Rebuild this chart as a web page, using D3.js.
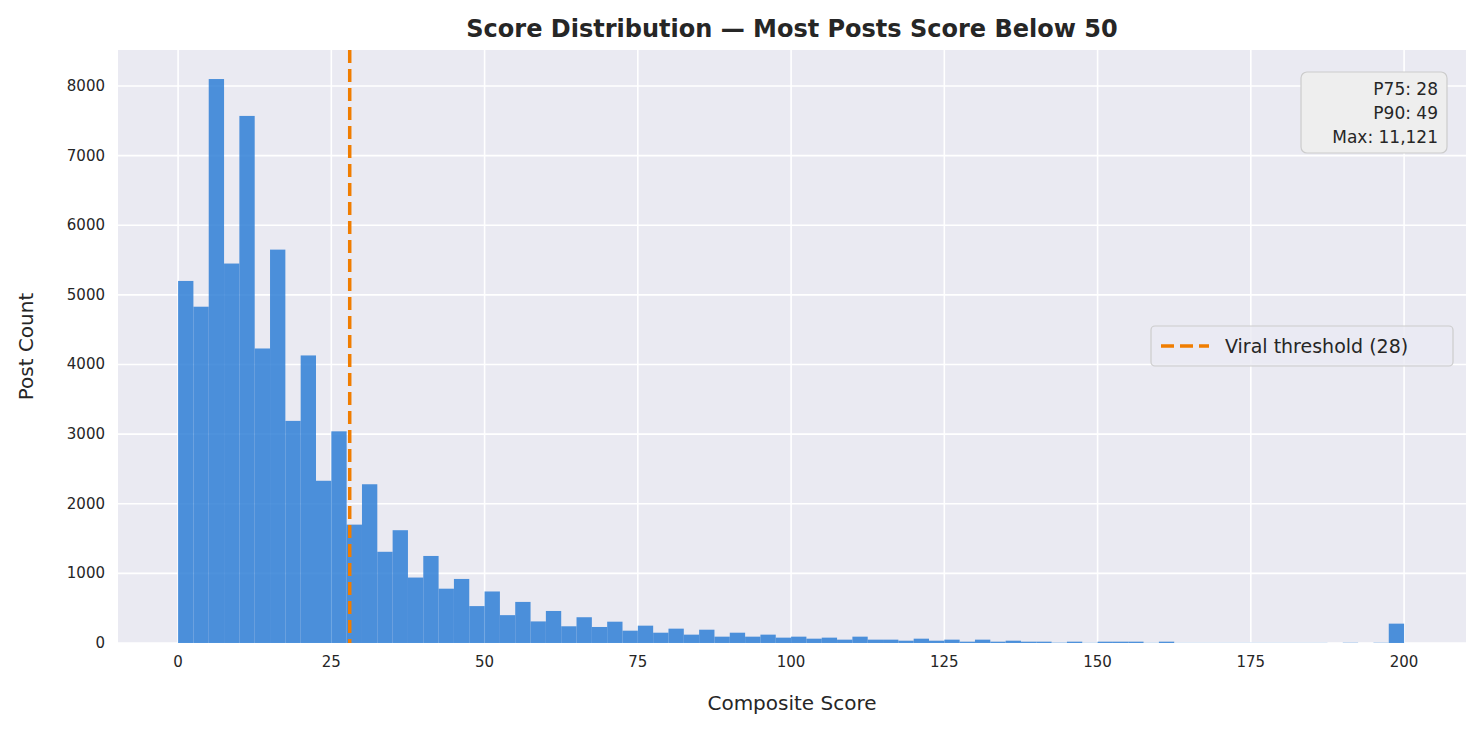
<!DOCTYPE html>
<html>
<head>
<meta charset="utf-8">
<script src="https://cdn.jsdelivr.net/npm/d3@7"></script>
<style>
  body { margin: 0; background: #fff; font-family: "DejaVu Sans", sans-serif; }
</style>
</head>
<body>
<svg id="chart" width="1480" height="730"></svg>
<script>
// Histogram bins: width 2.5, from 0 to 200.
const binWidth = 2.5;
const counts = [
  5200, 4830, 8100, 5450, 7570, 4230, 5650, 3190, 4130, 2330,
  3040, 1700, 2280, 1310, 1620, 940, 1250, 780, 920, 530,
  740, 400, 590, 310, 460, 240, 370, 230, 306, 177,
  249, 148, 206, 120, 191, 91, 148, 91, 120, 77,
  91, 62, 77, 48, 91, 48, 48, 33, 62, 33,
  48, 19, 48, 19, 33, 19, 19, 5, 19, 3,
  19, 19, 19, 3, 19, 2, 2, 2, 2, 2,
  2, 2, 2, 2, 2, 0, 4, 0, 4, 278
];
const xTicks = [0, 25, 50, 75, 100, 125, 150, 175, 200];
const yTicks = [0, 1000, 2000, 3000, 4000, 5000, 6000, 7000, 8000];
const threshold = 28;
const statLines = ["P75: 28", "P90: 49", "Max: 11,121"];

const svg = d3.select("#chart");
const plotLeft = 118, plotRight = 1466, plotTop = 50, plotBottom = 643;

const x = d3.scaleLinear().domain([-9.8, 210.1]).range([plotLeft, plotRight]);
const y = d3.scaleLinear().domain([0, 8517]).range([plotBottom, plotTop]);

// Plot background and grid
svg.append("rect").attr("x", plotLeft).attr("y", plotTop)
  .attr("width", plotRight - plotLeft).attr("height", plotBottom - plotTop).attr("fill", "#eaeaf2");

svg.append("g").selectAll("line").data(xTicks).enter().append("line")
  .attr("x1", d => x(d)).attr("x2", d => x(d)).attr("y1", plotTop).attr("y2", plotBottom)
  .attr("stroke", "#fff").attr("stroke-width", 1.6);
svg.append("g").selectAll("line").data(yTicks).enter().append("line")
  .attr("y1", d => y(d)).attr("y2", d => y(d)).attr("x1", plotLeft).attr("x2", plotRight)
  .attr("stroke", "#fff").attr("stroke-width", 1.6);

// Bars
svg.append("g").selectAll("rect").data(counts).enter().append("rect")
  .attr("x", (d, i) => x(i * binWidth))
  .attr("width", (d, i) => x((i + 1) * binWidth) - x(i * binWidth))
  .attr("y", d => y(d))
  .attr("height", d => plotBottom - y(d))
  .attr("fill", "#2f7fd6").attr("fill-opacity", 0.85);

// Threshold line
svg.append("line")
  .attr("x1", x(threshold)).attr("x2", x(threshold)).attr("y1", plotTop).attr("y2", plotBottom)
  .attr("stroke", "#f07d00").attr("stroke-width", 3.5).attr("stroke-dasharray", "13,6");

// Tick labels
svg.append("g").selectAll("text").data(xTicks).enter().append("text")
  .attr("x", d => x(d)).attr("y", plotBottom + 24).attr("text-anchor", "middle")
  .attr("font-size", 15).attr("fill", "#262626").text(d => d);
svg.append("g").selectAll("text").data(yTicks).enter().append("text")
  .attr("x", plotLeft - 13).attr("y", d => y(d) + 5).attr("text-anchor", "end")
  .attr("font-size", 15).attr("fill", "#262626").text(d => d);

// Axis titles and title
svg.append("text").attr("x", (plotLeft + plotRight) / 2).attr("y", 710).attr("text-anchor", "middle")
  .attr("font-size", 20).attr("fill", "#262626").text("Composite Score");
svg.append("text").attr("transform", "translate(33," + ((plotTop + plotBottom) / 2) + ") rotate(-90)")
  .attr("text-anchor", "middle").attr("font-size", 20).attr("fill", "#262626").text("Post Count");
svg.append("text").attr("x", (plotLeft + plotRight) / 2).attr("y", 37).attr("text-anchor", "middle")
  .attr("font-size", 24).attr("font-weight", "bold").attr("fill", "#262626")
  .text("Score Distribution \u2014 Most Posts Score Below 50");

// Stats box
svg.append("rect").attr("x", 1301).attr("y", 72).attr("width", 146).attr("height", 81)
  .attr("rx", 6).attr("fill", "#eeeeee").attr("stroke", "#cccccc").attr("stroke-width", 1.2);
svg.append("g").selectAll("text").data(statLines).enter().append("text")
  .attr("x", 1438).attr("y", (d, i) => 95 + i * 24).attr("text-anchor", "end")
  .attr("font-size", 17).attr("fill", "#262626").text(d => d);

// Legend
svg.append("rect").attr("x", 1151).attr("y", 326).attr("width", 302).attr("height", 40)
  .attr("rx", 4).attr("fill", "#eaeaf2").attr("fill-opacity", 0.8)
  .attr("stroke", "#cccccc").attr("stroke-width", 1.2);
svg.append("line").attr("x1", 1161).attr("x2", 1209).attr("y1", 346).attr("y2", 346)
  .attr("stroke", "#f07d00").attr("stroke-width", 3.5).attr("stroke-dasharray", "13,6");
svg.append("text").attr("x", 1225).attr("y", 353).attr("font-size", 19).attr("fill", "#262626")
  .text("Viral threshold (28)");
</script>
</body>
</html>
